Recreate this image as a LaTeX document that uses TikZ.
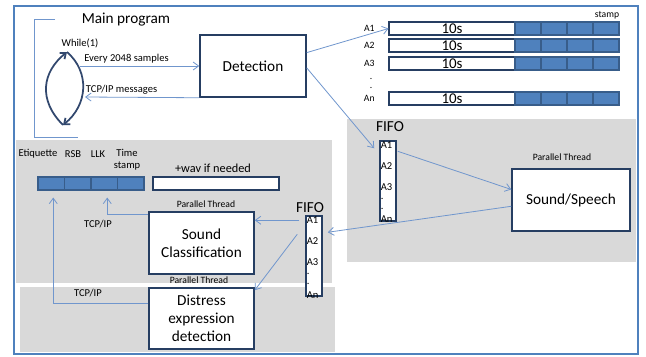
\documentclass[tikz,border=0pt]{standalone}
\usepackage{fontspec}
\setmainfont{Carlito}
\usetikzlibrary{calc,positioning,arrows.meta}

\definecolor{frameblue}{RGB}{79,129,189}
\definecolor{cellblue}{RGB}{79,129,189}
\definecolor{celledge}{RGB}{56,93,138}
\definecolor{boxedge}{RGB}{38,62,98}
\definecolor{linkblue}{RGB}{112,150,205}
\definecolor{panelgray}{RGB}{217,217,217}
\definecolor{loopnavy}{RGB}{50,72,110}

\tikzset{
  procbox/.style={draw=boxedge, line width=0.03cm, fill=white, align=center, inner sep=0pt,
    font=\fontsize{8.7}{10.4}\selectfont},
  barbox/.style={draw=boxedge, line width=0.022cm, fill=white, minimum width=2.52cm,
    minimum height=0.26cm, inner sep=0pt, font=\fontsize{8.5}{9}\selectfont},
  stampcell/.style={draw=celledge, line width=0.022cm, fill=cellblue, minimum width=0.52cm,
    minimum height=0.26cm, inner sep=0pt},
  fifobox/.style={draw=boxedge, line width=0.03cm, fill=white, minimum width=0.32cm,
    minimum height=1.6cm, inner sep=0pt},
  maintext/.style={inner sep=0pt, font=\fontsize{8.7}{10}\selectfont},
  smalltext/.style={inner sep=0pt, align=center, font=\fontsize{6}{7}\selectfont},
  tinytext/.style={inner sep=0pt, font=\fontsize{5.5}{6}\selectfont},
  link/.style={draw=linkblue, line width=0.016cm, -{Straight Barb[length=1.1mm, width=1.6mm]}},
  loopline/.style={draw=loopnavy, line width=0.035cm, -{Straight Barb[length=1mm, width=1.6mm]}}
}

\begin{document}
\begin{tikzpicture}[x=0.02cm, y=-0.02cm]
                \useasboundingbox (0,0) rectangle (646,356);%

                % Drawing thread panels
                \fill [panelgray] (347,119) rectangle (636,262);%
                \fill [panelgray] (16,140) rectangle (332,283);%
                \fill [panelgray] (20,287) rectangle (335,352);%

                % Drawing outer frame
                \draw [draw=frameblue, line width=0.04cm] (14,6) rectangle (638,354);%

                % Drawing main program bracket
                \draw [draw=linkblue, line width=0.02cm] (55,19) -| (34,137) -- (78,137);%
                \node [maintext] (mainlbl) at (126,20) {Main program};%
                \node [smalltext] (whilelbl) at (80,43) {While(1)};%

                % Drawing while loop
                \draw [loopline] (63,125) .. controls (38,100) and (42,72) .. (67,52);%
                \draw [loopline] (67,52) .. controls (90,72) and (88,105) .. (63,125);%

                % Drawing detection box
                \node [procbox, minimum width=2.12cm, minimum height=1.24cm] (det) at (253,66) {Detection};%
                \coordinate (loopout) at (80,66);%
                \coordinate (loopin) at (85,97);%
                \draw [link] (loopout) -- (det.west)
                  node [smalltext, pos=0.39, above=1.5pt] (everylbl) {Every 2048 samples};%
                \draw [link] (det.south west) -- (loopin)
                  node [smalltext, pos=0.68, above=1.5pt] (tcpmsg) {TCP/IP messages};%

                % Drawing buffer rows A1..An
                \foreach \r/\y in {1/28.5,2/45.5,3/63.5,n/98.5} {%
                  \node [barbox] (a\r) at (452,\y) {10s};%
                  \node [tinytext, left=0.27cm of a\r] (alab\r) {A\r};%
                  \foreach \c in {0,...,3}
                    \node [stampcell] (s\r\c) at (528+26*\c,\y) {};%
                }
                \node [tinytext] (dota) at (371,79) {.};%
                \node [tinytext] (dotb) at (371,88) {.};%
                \node [tinytext] (stamplbl) at (607,15) {stamp};%

                % Drawing first FIFO and sound/speech thread
                \node [maintext] (fifoalbl) at (390,127) {FIFO};%
                \node [fifobox] (fifoa) at (388,181) {};%
                \foreach \t/\y [count=\i] in {A1/145,A2/166,A3/187,./199,./209,An/219}
                  \node [smalltext, anchor=west] (fa\i) at (380.5,\y) {\t};%
                \node [tinytext] (ptsnd) at (562,157) {Parallel Thread};%
                \node [procbox, minimum width=2.36cm, minimum height=1.24cm] (snd) at (571,200) {Sound/Speech};%

                % Drawing message header and wav buffer
                \node [smalltext] (etqlbl) at (38,154) {Etiquette};%
                \node [smalltext] (rsblbl) at (73,154) {RSB};%
                \node [smalltext] (llklbl) at (98,154) {LLK};%
                \node [smalltext] (tmslbl) at (127,159.5) {Time\\stamp};%
                \foreach \n/\x in {etq/51.25,rsb/77.75,llk/104.25,tms/130.75}
                  \node [stampcell, minimum width=0.53cm] (\n) at (\x,183.5) {};%
                \node [maintext, font=\fontsize{7}{8}\selectfont] (wavlbl) at (213,168) {+wav if needed};%
                \node [barbox] (wav) at (216,183.5) {};%

                % Drawing second FIFO and classification threads
                \node [maintext] (fifoblbl) at (310,207.5) {FIFO};%
                \node [fifobox] (fifob) at (314,256) {};%
                \foreach \t/\y [count=\i] in {A1/220.5,A2/241,A3/262,./274,./284,An/295}
                  \node [smalltext, anchor=west] (fb\i) at (306.5,\y) {\t};%
                \node [tinytext] (ptsc) at (206,204) {Parallel Thread};%
                \node [procbox, minimum width=2.1cm, minimum height=1.24cm] (sc) at (201.5,243) {Sound\\Classification};%
                \node [tinytext] (ptdist) at (199,280) {Parallel Thread};%
                \node [procbox, minimum width=2.1cm, minimum height=1.22cm] (dist) at (201.5,318.5) {Distress\\expression\\detection};%
                \node [smalltext] (tcpsc) at (98,224) {TCP/IP};%
                \node [smalltext] (tcpdist) at (88,293) {TCP/IP};%

                % Drawing connectors
                \coordinate (fifoain) at ($(fifoa.north west)+(-5,8)$);%
                \coordinate (fifoaout) at ($(fifoa.north east)+(1,11)$);%
                \coordinate (fifobin) at ($(fifob.north east)+(5,17)$);%
                \coordinate (fifobout) at ($(fifob.north west)+(-6,5)$);%
                \coordinate (fifobdn) at ($(fifob.north west)+(-8,19)$);%
                \coordinate (llkin) at ($(llk.south)+(3,7)$);%
                \coordinate (etqin) at ($(etq.south)+(2,7)$);%
                \draw [link] (det.14) -- (a1.west);%
                \draw [link] (det.-2) -- (fifoain);%
                \draw [link] (fifoaout) -- (snd.170);%
                \draw [link] (snd.186) -- (fifobin);%
                \draw [link] (fifobout) -- (sc.east |- fifobout);%
                \draw [link] (fifobdn) -- (dist.28);%
                \draw [link] (sc.152) -| (llkin);%
                \draw [link] (dist.164) -| (etqin);%
\end{tikzpicture}
\end{document}
